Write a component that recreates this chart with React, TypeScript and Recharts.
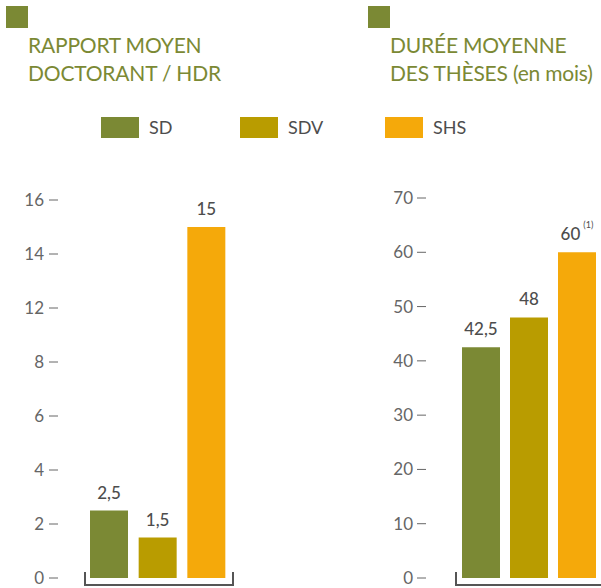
import { BarChart, Bar, XAxis, YAxis, Cell, LabelList } from 'recharts';

const categories = ['SD', 'SDV', 'SHS'];
const barColors = ['#7B8934', '#B99C00', '#F5A90A'];

const ratioTitle = ['RAPPORT MOYEN', 'DOCTORANT / HDR'];
const ratioValues = [2.5, 1.5, 15];
// the original axis skips 10: labels are evenly spaced
const ratioTickLabels = [0, 2, 4, 6, 8, 12, 14, 16];

const durationTitle = ['DURÉE MOYENNE', 'DES THÈSES (en mois)'];
const durationValues = [42.5, 48, 60];
const durationTicks = [0, 10, 20, 30, 40, 50, 60, 70];
const durationNotes = ['', '', '(1)'];

const titleColor = '#7B8934';
const textColor = '#4d4d4d';
const font = 'Lato, "Open Sans", sans-serif';

const fr = (v: number) => String(v).replace('.', ',');

// position of a value on the (uneven) ratio axis
const ratioPos = (v: number) => {
  for (let i = 0; i < ratioTickLabels.length - 1; i++) {
    const a = ratioTickLabels[i];
    const b = ratioTickLabels[i + 1];
    if (v <= b) return 2 * (i + (v - a) / (b - a));
  }
  return 2 * (ratioTickLabels.length - 1);
};

const ratioData = categories.map((name, i) => ({
  name,
  value: ratioValues[i],
  pos: ratioPos(ratioValues[i]),
}));
const durationData = categories.map((name, i) => ({
  name,
  value: durationValues[i],
  note: durationNotes[i],
}));

const makeTick =
  (labelRight: number, x1: number, x2: number, fmt: (v: number) => string) =>
  (props: any) => {
    const { y, payload } = props;
    return (
      <g>
        <line x1={x1} x2={x2} y1={y} y2={y} stroke="#666" strokeWidth={1} />
        <text
          x={labelRight}
          y={y}
          dy={6}
          textAnchor="end"
          fill="#666"
          fontSize={17}
          fontFamily={font}
          fontWeight={400}
        >
          {fmt(payload.value)}
        </text>
      </g>
    );
  };

const makeLabel = (data: { value: number; note?: string }[]) => (props: any) => {
  const { x, y, width, index } = props;
  const d = data[index];
  return (
    <text
      x={x + width / 2}
      y={y - 12}
      textAnchor="middle"
      fill={textColor}
      fontSize={17}
      fontFamily={font}
      fontWeight={500}
    >
      {fr(d.value)}
      {d.note ? (
        <tspan dx={3} dy={-12} fontSize={9} fontWeight={400}>
          {d.note}
        </tspan>
      ) : null}
    </text>
  );
};

function Title({ lines, left }: { lines: string[]; left: number }) {
  return (
    <>
      <div
        style={{ position: 'absolute', left, top: 6, width: 22, height: 22, background: titleColor }}
      />
      <div
        style={{
          position: 'absolute',
          left: left + 22,
          top: 31,
          color: titleColor,
          fontFamily: font,
          fontSize: 21,
          letterSpacing: '-0.2px',
          lineHeight: '28px',
          whiteSpace: 'nowrap',
        }}
      >
        {lines.map((l) => (
          <div key={l}>{l}</div>
        ))}
      </div>
    </>
  );
}

function Bracket({ left, width }: { left: number; width: number }) {
  return (
    <div
      style={{
        position: 'absolute',
        left,
        top: 572,
        width,
        height: 12,
        borderLeft: '2px solid #555',
        borderRight: '2px solid #555',
        borderBottom: '2px solid #555',
      }}
    />
  );
}

const legendX = [101, 240, 385];

export default function App() {
  return (
    <div
      style={{
        position: 'absolute',
        left: 0,
        top: 0,
        width: 601,
        height: 588,
        overflow: 'hidden',
        background: '#fff',
        fontFamily: font,
      }}
    >
      <Title lines={ratioTitle} left={6} />
      <Title lines={durationTitle} left={368} />

      {categories.map((c, i) => (
        <div key={c} style={{ position: 'absolute', left: legendX[i], top: 117 }}>
          <div style={{ position: 'absolute', left: 0, top: 0, width: 38, height: 21, background: barColors[i] }} />
          <div
            style={{
              position: 'absolute',
              left: 48,
              top: -2,
              fontSize: 18,
              color: textColor,
              lineHeight: '24px',
            }}
          >
            {c}
          </div>
        </div>
      ))}

      <div style={{ position: 'absolute', left: 0, top: 0 }}>
        <BarChart
          width={300}
          height={588}
          data={ratioData}
          margin={{ top: 200, right: 69, bottom: 10, left: 0 }}
          barCategoryGap={0}
        >
          <XAxis dataKey="name" hide />
          <YAxis
            width={85}
            domain={[0, 14]}
            ticks={[0, 2, 4, 6, 8, 10, 12, 14]}
            interval={0}
            axisLine={false}
            tickLine={false}
            tick={makeTick(44, 49, 58, (v) => String(ratioTickLabels[Math.round(v / 2)]))}
          />
          <Bar dataKey="pos" barSize={38} isAnimationActive={false}>
            {ratioData.map((d, i) => (
              <Cell key={d.name} fill={barColors[i]} />
            ))}
            <LabelList dataKey="pos" content={makeLabel(ratioData)} />
          </Bar>
        </BarChart>
      </div>

      <div style={{ position: 'absolute', left: 300, top: 0 }}>
        <BarChart
          width={302}
          height={588}
          data={durationData}
          margin={{ top: 198, right: 1, bottom: 10, left: 0 }}
          barCategoryGap={0}
        >
          <XAxis dataKey="name" hide />
          <YAxis
            width={157}
            domain={[0, 70]}
            ticks={durationTicks}
            interval={0}
            axisLine={false}
            tickLine={false}
            tick={makeTick(113, 117, 126, (v) => String(v))}
          />
          <Bar dataKey="value" barSize={38} isAnimationActive={false}>
            {durationData.map((d, i) => (
              <Cell key={d.name} fill={barColors[i]} />
            ))}
            <LabelList dataKey="value" content={makeLabel(durationData)} />
          </Bar>
        </BarChart>
      </div>

      <Bracket left={84} width={146} />
      <Bracket left={455} width={160} />
    </div>
  );
}
